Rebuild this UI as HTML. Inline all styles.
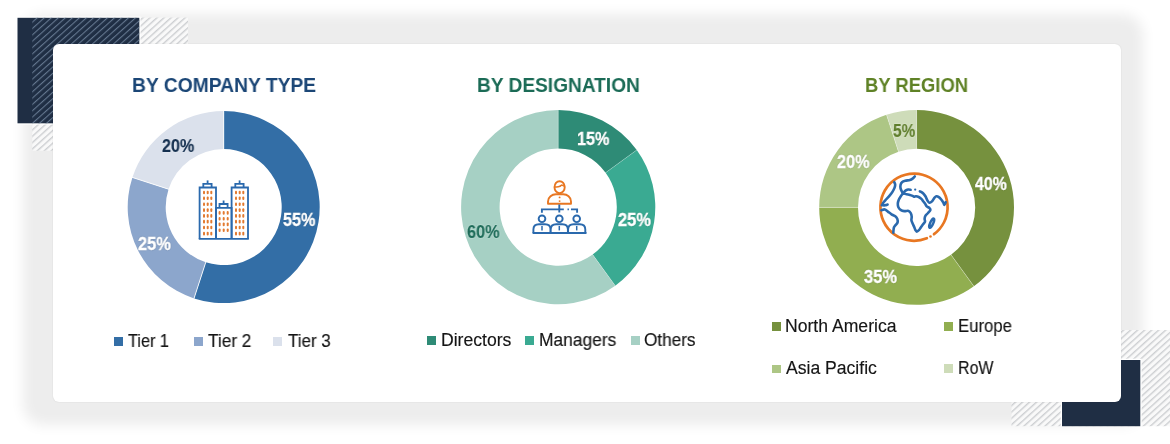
<!DOCTYPE html>
<html><head><meta charset="utf-8"><style>
*{margin:0;padding:0;box-sizing:border-box}
html,body{width:1170px;height:444px;overflow:hidden;background:#fff}
body{position:relative;font-family:"Liberation Sans",sans-serif}
.abs{position:absolute}
.shadow{left:53.1px;top:44px;width:1067.7px;height:358px;border-radius:6px;background:#ededed;box-shadow:-4px -3.5px 13px 26px #ededed}
.card{left:53.1px;top:44px;width:1067.7px;height:358px;border-radius:6px;background:#fff;box-shadow:0 0 1.5px rgba(0,0,0,0.12)}
.t{position:absolute;white-space:nowrap;line-height:1;transform-origin:0 0;will-change:transform}
.sq{position:absolute}
</style></head><body>
<div class="abs shadow"></div>
<svg class="abs" style="left:0;top:0" width="1170" height="444" viewBox="0 0 1170 444">
<defs>
<pattern id="sl" patternUnits="userSpaceOnUse" width="40" height="4.7" patternTransform="rotate(-42)"><rect width="40" height="4.7" fill="#f9f9f9"/><rect width="40" height="1.4" y="0" fill="#cdcfd2"/></pattern>
<pattern id="sd" patternUnits="userSpaceOnUse" width="40" height="4.7" patternTransform="rotate(-42)"><rect width="40" height="1.1" y="0" fill="#64778f"/></pattern>
</defs>
<rect x="32.3" y="17.6" width="155.7" height="133.1" fill="url(#sl)"/>
<rect x="16.3" y="16.6" width="124.3" height="108" fill="#fff"/>
<rect x="17.5" y="17.8" width="121.8" height="105.5" fill="#1f2e44"/>
<rect x="32.3" y="17.8" width="107" height="105.5" fill="url(#sd)"/>
<rect x="1011.5" y="330" width="160" height="96.2" fill="url(#sl)"/>
<rect x="1060.7" y="358.7" width="81" height="67.5" fill="#fff"/>
<rect x="1062" y="360" width="78.3" height="66.2" fill="#1f2e44"/>
</svg>
<div class="abs card"></div>
<svg class="abs" style="left:0;top:0" width="1170" height="444" viewBox="0 0 1170 444">
<path d="M223.70,111.10 A96.0,96.0 0 1 1 194.03,298.40 L205.78,262.26 A58.0,58.0 0 1 0 223.70,149.10 Z" fill="#336ea6"/>
<path d="M194.03,298.40 A96.0,96.0 0 0 1 132.40,177.43 L168.54,189.18 A58.0,58.0 0 0 0 205.78,262.26 Z" fill="#8ca6cc"/>
<path d="M132.40,177.43 A96.0,96.0 0 0 1 223.70,111.10 L223.70,149.10 A58.0,58.0 0 0 0 168.54,189.18 Z" fill="#dbe1ec"/>
<line x1="223.70" y1="150.10" x2="223.70" y2="110.10" stroke="#fff" stroke-width="1.0" stroke-opacity="0.85"/>
<line x1="206.09" y1="261.31" x2="193.73" y2="299.35" stroke="#fff" stroke-width="1.0" stroke-opacity="0.85"/>
<line x1="169.49" y1="189.49" x2="131.45" y2="177.13" stroke="#fff" stroke-width="1.0" stroke-opacity="0.85"/>
<path d="M558.20,110.00 A97.1,97.1 0 0 1 636.76,150.03 L605.61,172.66 A58.6,58.6 0 0 0 558.20,148.50 Z" fill="#2e8b76"/>
<path d="M636.76,150.03 A97.1,97.1 0 0 1 615.27,285.66 L592.64,254.51 A58.6,58.6 0 0 0 605.61,172.66 Z" fill="#3aaa92"/>
<path d="M615.27,285.66 A97.1,97.1 0 1 1 558.20,110.00 L558.20,148.50 A58.6,58.6 0 1 0 592.64,254.51 Z" fill="#a6d0c4"/>
<line x1="558.20" y1="149.50" x2="558.20" y2="109.00" stroke="#fff" stroke-width="0.8" stroke-opacity="0.3"/>
<line x1="604.80" y1="173.24" x2="637.56" y2="149.44" stroke="#fff" stroke-width="0.8" stroke-opacity="0.3"/>
<line x1="592.06" y1="253.70" x2="615.86" y2="286.46" stroke="#fff" stroke-width="0.8" stroke-opacity="0.3"/>
<path d="M916.60,110.00 A97.4,97.4 0 0 1 973.85,286.20 L951.04,254.81 A58.6,58.6 0 0 0 916.60,148.80 Z" fill="#76913e"/>
<path d="M973.85,286.20 A97.4,97.4 0 0 1 819.20,207.40 L858.00,207.40 A58.6,58.6 0 0 0 951.04,254.81 Z" fill="#91ae50"/>
<path d="M819.20,207.40 A97.4,97.4 0 0 1 886.50,114.77 L898.49,151.67 A58.6,58.6 0 0 0 858.00,207.40 Z" fill="#adc685"/>
<path d="M886.50,114.77 A97.4,97.4 0 0 1 916.60,110.00 L916.60,148.80 A58.6,58.6 0 0 0 898.49,151.67 Z" fill="#cedcb9"/>
<line x1="916.60" y1="149.80" x2="916.60" y2="109.00" stroke="#fff" stroke-width="0.8" stroke-opacity="0.4"/>
<line x1="950.46" y1="254.00" x2="974.44" y2="287.01" stroke="#fff" stroke-width="0.8" stroke-opacity="0.4"/>
<line x1="859.00" y1="207.40" x2="818.20" y2="207.40" stroke="#fff" stroke-width="0.8" stroke-opacity="0.4"/>
<line x1="898.80" y1="152.62" x2="886.19" y2="113.82" stroke="#fff" stroke-width="0.8" stroke-opacity="0.4"/>
<path d="M199.6,239 V187.5 H216 V239" fill="none" stroke="#2a69ad" stroke-width="1.8"/><path d="M203.3,187.5 V183.8 H211.6 V187.5" fill="none" stroke="#2a69ad" stroke-width="1.8"/><line x1="207.6" y1="183.8" x2="207.6" y2="180.4" stroke="#2a69ad" stroke-width="1.8"/>
<path d="M231.6,239 V187.5 H248 V239" fill="none" stroke="#2a69ad" stroke-width="1.8"/><path d="M235.3,187.5 V183.8 H243.6 V187.5" fill="none" stroke="#2a69ad" stroke-width="1.8"/><line x1="239.6" y1="183.8" x2="239.6" y2="180.4" stroke="#2a69ad" stroke-width="1.8"/>
<path d="M216,239 V207.8 H231.6 V239" fill="none" stroke="#2a69ad" stroke-width="1.8"/>
<path d="M219.5,207.8 V204 H227.6 V207.8" fill="none" stroke="#2a69ad" stroke-width="1.8"/>
<line x1="223.6" y1="204" x2="223.6" y2="200.5" stroke="#2a69ad" stroke-width="1.8"/>
<line x1="198.8" y1="238.9" x2="248.8" y2="238.9" stroke="#2a69ad" stroke-width="1.8"/>
<rect x="203.00" y="190.70" width="2" height="3.6" rx="1" fill="#e27a30"/>
<rect x="206.70" y="190.70" width="2" height="3.6" rx="1" fill="#e27a30"/>
<rect x="210.30" y="190.70" width="2" height="3.6" rx="1" fill="#e27a30"/>
<rect x="203.00" y="196.50" width="2" height="3.6" rx="1" fill="#e27a30"/>
<rect x="206.70" y="196.50" width="2" height="3.6" rx="1" fill="#e27a30"/>
<rect x="210.30" y="196.50" width="2" height="3.6" rx="1" fill="#e27a30"/>
<rect x="203.00" y="202.40" width="2" height="3.6" rx="1" fill="#e27a30"/>
<rect x="206.70" y="202.40" width="2" height="3.6" rx="1" fill="#e27a30"/>
<rect x="210.30" y="202.40" width="2" height="3.6" rx="1" fill="#e27a30"/>
<rect x="203.00" y="208.30" width="2" height="3.6" rx="1" fill="#e27a30"/>
<rect x="206.70" y="208.30" width="2" height="3.6" rx="1" fill="#e27a30"/>
<rect x="210.30" y="208.30" width="2" height="3.6" rx="1" fill="#e27a30"/>
<rect x="203.00" y="214.10" width="2" height="3.6" rx="1" fill="#e27a30"/>
<rect x="206.70" y="214.10" width="2" height="3.6" rx="1" fill="#e27a30"/>
<rect x="210.30" y="214.10" width="2" height="3.6" rx="1" fill="#e27a30"/>
<rect x="203.00" y="219.80" width="2" height="3.6" rx="1" fill="#e27a30"/>
<rect x="206.70" y="219.80" width="2" height="3.6" rx="1" fill="#e27a30"/>
<rect x="210.30" y="219.80" width="2" height="3.6" rx="1" fill="#e27a30"/>
<rect x="203.00" y="225.70" width="2" height="3.6" rx="1" fill="#e27a30"/>
<rect x="206.70" y="225.70" width="2" height="3.6" rx="1" fill="#e27a30"/>
<rect x="210.30" y="225.70" width="2" height="3.6" rx="1" fill="#e27a30"/>
<rect x="203.00" y="231.80" width="2" height="3.6" rx="1" fill="#e27a30"/>
<rect x="206.70" y="231.80" width="2" height="3.6" rx="1" fill="#e27a30"/>
<rect x="210.30" y="231.80" width="2" height="3.6" rx="1" fill="#e27a30"/>
<rect x="235.00" y="190.70" width="2" height="3.6" rx="1" fill="#e27a30"/>
<rect x="238.70" y="190.70" width="2" height="3.6" rx="1" fill="#e27a30"/>
<rect x="242.30" y="190.70" width="2" height="3.6" rx="1" fill="#e27a30"/>
<rect x="235.00" y="196.50" width="2" height="3.6" rx="1" fill="#e27a30"/>
<rect x="238.70" y="196.50" width="2" height="3.6" rx="1" fill="#e27a30"/>
<rect x="242.30" y="196.50" width="2" height="3.6" rx="1" fill="#e27a30"/>
<rect x="235.00" y="202.40" width="2" height="3.6" rx="1" fill="#e27a30"/>
<rect x="238.70" y="202.40" width="2" height="3.6" rx="1" fill="#e27a30"/>
<rect x="242.30" y="202.40" width="2" height="3.6" rx="1" fill="#e27a30"/>
<rect x="235.00" y="208.30" width="2" height="3.6" rx="1" fill="#e27a30"/>
<rect x="238.70" y="208.30" width="2" height="3.6" rx="1" fill="#e27a30"/>
<rect x="242.30" y="208.30" width="2" height="3.6" rx="1" fill="#e27a30"/>
<rect x="235.00" y="214.10" width="2" height="3.6" rx="1" fill="#e27a30"/>
<rect x="238.70" y="214.10" width="2" height="3.6" rx="1" fill="#e27a30"/>
<rect x="242.30" y="214.10" width="2" height="3.6" rx="1" fill="#e27a30"/>
<rect x="235.00" y="219.80" width="2" height="3.6" rx="1" fill="#e27a30"/>
<rect x="238.70" y="219.80" width="2" height="3.6" rx="1" fill="#e27a30"/>
<rect x="242.30" y="219.80" width="2" height="3.6" rx="1" fill="#e27a30"/>
<rect x="235.00" y="225.70" width="2" height="3.6" rx="1" fill="#e27a30"/>
<rect x="238.70" y="225.70" width="2" height="3.6" rx="1" fill="#e27a30"/>
<rect x="242.30" y="225.70" width="2" height="3.6" rx="1" fill="#e27a30"/>
<rect x="235.00" y="231.80" width="2" height="3.6" rx="1" fill="#e27a30"/>
<rect x="238.70" y="231.80" width="2" height="3.6" rx="1" fill="#e27a30"/>
<rect x="242.30" y="231.80" width="2" height="3.6" rx="1" fill="#e27a30"/>
<rect x="218.60" y="211.10" width="2" height="3.6" rx="1" fill="#e27a30"/>
<rect x="222.70" y="211.10" width="2" height="3.6" rx="1" fill="#e27a30"/>
<rect x="226.70" y="211.10" width="2" height="3.6" rx="1" fill="#e27a30"/>
<rect x="218.60" y="216.90" width="2" height="3.6" rx="1" fill="#e27a30"/>
<rect x="222.70" y="216.90" width="2" height="3.6" rx="1" fill="#e27a30"/>
<rect x="226.70" y="216.90" width="2" height="3.6" rx="1" fill="#e27a30"/>
<rect x="218.60" y="222.60" width="2" height="3.6" rx="1" fill="#e27a30"/>
<rect x="222.70" y="222.60" width="2" height="3.6" rx="1" fill="#e27a30"/>
<rect x="226.70" y="222.60" width="2" height="3.6" rx="1" fill="#e27a30"/>
<rect x="218.60" y="228.40" width="2" height="3.6" rx="1" fill="#e27a30"/>
<rect x="222.70" y="228.40" width="2" height="3.6" rx="1" fill="#e27a30"/>
<rect x="226.70" y="228.40" width="2" height="3.6" rx="1" fill="#e27a30"/>
<ellipse cx="559.6" cy="187.2" rx="5.1" ry="6" fill="none" stroke="#e87722" stroke-width="1.9"/>
<path d="M554.6,186.9 C556.5,187.2 558.5,187 560,186.3 C561,185.6 561.5,184.9 562,185.1 C563,185.7 563.8,186.2 564.6,186.1" fill="none" stroke="#e87722" stroke-width="1.5" stroke-linecap="round"/>
<path d="M548,203.7 V201.5 C548,197 552,194.3 556,194.3 H563.2 C567.2,194.3 571,197 571,201.5 V203.7 Z" fill="none" stroke="#e87722" stroke-width="1.9" stroke-linejoin="round"/>
<circle cx="559.6" cy="197.4" r="0.95" fill="#e87722"/><circle cx="559.6" cy="201.1" r="0.95" fill="#e87722"/>
<line x1="559.3" y1="204.5" x2="559.3" y2="212.5" stroke="#2a69ad" stroke-width="1.9"/>
<path d="M541.9,212.8 V209.4 H563.8" fill="none" stroke="#2a69ad" stroke-width="1.9"/>
<path d="M567.5,209.4 H568.9 M571,209.4 H577.1 V212.8" fill="none" stroke="#2a69ad" stroke-width="1.9"/>
<path d="M533.4,233 V229.5 C533.4,226 536.0,224.3 539.0,224.3 H545.0 C548.0,224.3 550.6,226 550.6,229.5 V233" fill="#fff" stroke="#2a69ad" stroke-width="1.9" stroke-linejoin="round"/>
<line x1="542.0" y1="226" x2="542.0" y2="230.4" stroke="#2a69ad" stroke-width="1.5"/>
<path d="M550.6999999999999,233 V229.5 C550.6999999999999,226 553.3,224.3 556.3,224.3 H562.3 C565.3,224.3 567.9,226 567.9,229.5 V233" fill="#fff" stroke="#2a69ad" stroke-width="1.9" stroke-linejoin="round"/>
<line x1="559.3" y1="226" x2="559.3" y2="230.4" stroke="#2a69ad" stroke-width="1.5"/>
<path d="M568.1,233 V229.5 C568.1,226 570.7,224.3 573.7,224.3 H579.7 C582.7,224.3 585.3000000000001,226 585.3000000000001,229.5 V233" fill="#fff" stroke="#2a69ad" stroke-width="1.9" stroke-linejoin="round"/>
<line x1="576.7" y1="226" x2="576.7" y2="230.4" stroke="#2a69ad" stroke-width="1.5"/>
<circle cx="542.0" cy="218.8" r="3.35" fill="#fff" stroke="#2a69ad" stroke-width="1.9"/>
<circle cx="559.3" cy="218.8" r="3.35" fill="#fff" stroke="#2a69ad" stroke-width="1.9"/>
<circle cx="576.7" cy="218.8" r="3.35" fill="#fff" stroke="#2a69ad" stroke-width="1.9"/>
<line x1="532.6" y1="233" x2="586.5" y2="233" stroke="#2a69ad" stroke-width="1.9"/>
<path d="M926.86,238.24 A33.6,33.6 0 1 1 933.99,234.21" fill="none" stroke="#e87722" stroke-width="2.7" stroke-linecap="round"/>
<circle cx="930.49" cy="236.47" r="1.3" fill="#e87722"/>
<path d="M894.30,182.20 C894.45,182.63 895.18,183.82 895.20,184.80 C895.22,185.78 894.83,186.97 894.40,188.10 C893.97,189.23 893.40,190.35 892.60,191.60 C891.80,192.85 890.62,194.37 889.60,195.60 C888.58,196.83 887.43,197.97 886.50,199.00 C885.57,200.03 884.65,201.00 884.00,201.80 C883.35,202.60 882.83,203.47 882.60,203.80" fill="none" stroke="#2a69ad" stroke-width="2.6" stroke-linecap="round" stroke-linejoin="round"/>
<path d="M881.80,205.20 C882.33,205.22 884.03,205.40 885.00,205.30 C885.97,205.20 887.17,204.72 887.60,204.60" fill="none" stroke="#2a69ad" stroke-width="2.6" stroke-linecap="round" stroke-linejoin="round"/>
<path d="M914.80,176.40 C914.43,176.77 913.42,178.00 912.60,178.60 C911.78,179.20 911.13,179.63 909.90,180.00 C908.67,180.37 906.52,180.43 905.20,180.80 C903.88,181.17 902.77,181.53 902.00,182.20 C901.23,182.87 900.85,183.82 900.60,184.80 C900.35,185.78 900.30,187.02 900.50,188.10 C900.70,189.18 901.32,190.43 901.80,191.30 C902.28,192.17 903.13,192.97 903.40,193.30" fill="none" stroke="#2a69ad" stroke-width="2.6" stroke-linecap="round" stroke-linejoin="round"/>
<path d="M903.10,193.50 C903.45,193.07 904.35,191.55 905.20,190.90 C906.05,190.25 907.30,189.78 908.20,189.60 C909.10,189.42 910.20,189.77 910.60,189.80" fill="none" stroke="#2a69ad" stroke-width="2.6" stroke-linecap="round" stroke-linejoin="round"/>
<circle cx="915.2" cy="189.6" r="1.15" fill="#2a69ad"/>
<path d="M919.90,191.30 C920.47,191.67 922.35,192.63 923.30,193.50 C924.25,194.37 924.90,195.32 925.60,196.50 C926.30,197.68 926.87,199.55 927.50,200.60 C928.13,201.65 928.65,202.67 929.40,202.80 C930.15,202.93 931.20,202.18 932.00,201.40 C932.80,200.62 933.48,198.95 934.20,198.10 C934.92,197.25 935.53,196.47 936.30,196.30 C937.07,196.13 937.95,196.52 938.80,197.10 C939.65,197.68 940.65,198.88 941.40,199.80 C942.15,200.72 942.80,201.75 943.30,202.60 C943.80,203.45 944.00,204.97 944.40,204.90 C944.80,204.83 945.48,202.65 945.70,202.20" fill="none" stroke="#2a69ad" stroke-width="2.6" stroke-linecap="round" stroke-linejoin="round"/>
<path d="M903.10,193.50 C904.10,193.08 905.37,194.07 906.50,194.30 C907.63,194.53 908.88,194.63 909.90,194.90 C910.92,195.17 911.92,195.60 912.60,195.90 C913.28,196.20 913.43,196.63 914.00,196.70 C914.57,196.77 915.22,196.25 916.00,196.30 C916.78,196.35 917.80,196.57 918.70,197.00 C919.60,197.43 920.65,198.20 921.40,198.90 C922.15,199.60 922.60,200.42 923.20,201.20 C923.80,201.98 924.42,202.75 925.00,203.60 C925.58,204.45 925.97,205.57 926.70,206.30 C927.43,207.03 928.78,207.38 929.40,208.00 C930.02,208.62 930.63,209.17 930.40,210.00 C930.17,210.83 928.83,212.03 928.00,213.00 C927.17,213.97 925.97,214.82 925.40,215.80 C924.83,216.78 924.67,217.93 924.60,218.90 C924.53,219.87 925.25,220.70 925.00,221.60 C924.75,222.50 923.80,223.33 923.10,224.30 C922.40,225.27 921.50,226.42 920.80,227.40 C920.10,228.38 919.57,229.50 918.90,230.20 C918.23,230.90 917.38,231.63 916.80,231.60 C916.22,231.57 915.83,230.77 915.40,230.00 C914.97,229.23 914.67,228.10 914.20,227.00 C913.73,225.90 913.07,224.53 912.60,223.40 C912.13,222.27 911.55,221.33 911.40,220.20 C911.25,219.07 911.82,217.80 911.70,216.60 C911.58,215.40 911.22,213.95 910.70,213.00 C910.18,212.05 909.67,211.22 908.60,210.90 C907.53,210.58 905.63,211.28 904.30,211.10 C902.97,210.92 901.58,210.45 900.60,209.80 C899.62,209.15 898.87,208.22 898.40,207.20 C897.93,206.18 897.77,204.87 897.80,203.70 C897.83,202.53 898.15,201.35 898.60,200.20 C899.05,199.05 899.75,197.92 900.50,196.80 C901.25,195.68 902.10,193.92 903.10,193.50 Z" fill="none" stroke="#2a69ad" stroke-width="2.6" stroke-linecap="round" stroke-linejoin="round"/>
<ellipse cx="931.7" cy="223.2" rx="1.5" ry="5.0" transform="rotate(24 931.7 223.2)" fill="none" stroke="#2a69ad" stroke-width="2.5"/>
<path d="M881.40,210.20 C881.97,210.07 883.72,209.17 884.80,209.40 C885.88,209.63 886.78,210.78 887.90,211.60 C889.02,212.42 890.27,213.53 891.50,214.30 C892.73,215.07 894.33,215.43 895.30,216.20 C896.27,216.97 896.92,217.88 897.30,218.90 C897.68,219.92 897.88,221.27 897.60,222.30 C897.32,223.33 896.20,224.28 895.60,225.10 C895.00,225.92 894.35,226.37 894.00,227.20 C893.65,228.03 893.62,229.20 893.50,230.10 C893.38,231.00 893.33,232.18 893.30,232.60" fill="none" stroke="#2a69ad" stroke-width="2.6" stroke-linecap="round" stroke-linejoin="round"/>
</svg>
<div class="t" style="left:132.04px;top:74.90px;font-size:20px;font-weight:bold;color:#1b4676;transform:scaleX(0.9630);">BY COMPANY TYPE</div>
<div class="t" style="left:476.94px;top:74.90px;font-size:20px;font-weight:bold;color:#1b6b56;transform:scaleX(0.9554);">BY DESIGNATION</div>
<div class="t" style="left:864.98px;top:74.90px;font-size:20px;font-weight:bold;color:#5f8226;transform:scaleX(0.9209);">BY REGION</div>
<div class="t" style="left:282.98px;top:212.00px;font-size:17.5px;font-weight:bold;color:#fff;transform:scaleX(0.9235);text-shadow:0 0 1.5px rgba(0,0,0,0.35);-webkit-text-stroke:0.35px #fff">55%</div>
<div class="t" style="left:138.16px;top:235.50px;font-size:17.5px;font-weight:bold;color:#fff;transform:scaleX(0.9353);text-shadow:0 0 1.5px rgba(0,0,0,0.35);-webkit-text-stroke:0.35px #fff">25%</div>
<div class="t" style="left:161.68px;top:137.80px;font-size:17.5px;font-weight:bold;color:#142f4f;transform:scaleX(0.9206);text-shadow:0 0 1.5px rgba(255,255,255,0.9);-webkit-text-stroke:0.2px currentColor">20%</div>
<div class="t" style="left:577.28px;top:131.00px;font-size:17.5px;font-weight:bold;color:#fff;transform:scaleX(0.9235);text-shadow:0 0 1.5px rgba(0,0,0,0.35);-webkit-text-stroke:0.35px #fff">15%</div>
<div class="t" style="left:618.46px;top:212.00px;font-size:17.5px;font-weight:bold;color:#fff;transform:scaleX(0.9382);text-shadow:0 0 1.5px rgba(0,0,0,0.35);-webkit-text-stroke:0.35px #fff">25%</div>
<div class="t" style="left:467.07px;top:224.40px;font-size:17.5px;font-weight:bold;color:#1e6c59;transform:scaleX(0.9294);text-shadow:0 0 1.5px rgba(255,255,255,0.9);-webkit-text-stroke:0.2px currentColor">60%</div>
<div class="t" style="left:974.90px;top:176.00px;font-size:17.5px;font-weight:bold;color:#fff;transform:scaleX(0.9057);text-shadow:0 0 1.5px rgba(0,0,0,0.35);-webkit-text-stroke:0.35px #fff">40%</div>
<div class="t" style="left:864.06px;top:269.40px;font-size:17.5px;font-weight:bold;color:#fff;transform:scaleX(0.9412);text-shadow:0 0 1.5px rgba(0,0,0,0.35);-webkit-text-stroke:0.35px #fff">35%</div>
<div class="t" style="left:836.87px;top:154.30px;font-size:17.5px;font-weight:bold;color:#fff;transform:scaleX(0.9294);text-shadow:0 0 1.5px rgba(0,0,0,0.35);-webkit-text-stroke:0.35px #fff">20%</div>
<div class="t" style="left:893.02px;top:122.90px;font-size:17.5px;font-weight:bold;color:#5f7e2c;transform:scaleX(0.8792);text-shadow:0 0 1.5px rgba(255,255,255,0.9);-webkit-text-stroke:0.2px currentColor">5%</div>
<div class="t" style="left:128.10px;top:332.80px;font-size:17.5px;font-weight:normal;color:#151515;transform:scaleX(0.9302);-webkit-text-stroke:0.15px #151515">Tier 1</div>
<div class="t" style="left:207.90px;top:332.80px;font-size:17.5px;font-weight:normal;color:#151515;transform:scaleX(0.9837);-webkit-text-stroke:0.15px #151515">Tier 2</div>
<div class="t" style="left:287.60px;top:332.80px;font-size:17.5px;font-weight:normal;color:#151515;transform:scaleX(0.9698);-webkit-text-stroke:0.15px #151515">Tier 3</div>
<div class="t" style="left:440.99px;top:331.80px;font-size:17.5px;font-weight:normal;color:#151515;transform:scaleX(1.0059);-webkit-text-stroke:0.15px #151515">Directors</div>
<div class="t" style="left:539.11px;top:331.80px;font-size:17.5px;font-weight:normal;color:#151515;transform:scaleX(0.9934);-webkit-text-stroke:0.15px #151515">Managers</div>
<div class="t" style="left:643.82px;top:331.80px;font-size:17.5px;font-weight:normal;color:#151515;transform:scaleX(0.9804);-webkit-text-stroke:0.15px #151515">Others</div>
<div class="t" style="left:785.29px;top:317.70px;font-size:17.5px;font-weight:normal;color:#151515;transform:scaleX(1.0055);-webkit-text-stroke:0.15px #151515">North America</div>
<div class="t" style="left:958.05px;top:317.70px;font-size:17.5px;font-weight:normal;color:#151515;transform:scaleX(0.9545);-webkit-text-stroke:0.15px #151515">Europe</div>
<div class="t" style="left:785.90px;top:360.20px;font-size:17.5px;font-weight:normal;color:#151515;transform:scaleX(1.0044);-webkit-text-stroke:0.15px #151515">Asia Pacific</div>
<div class="t" style="left:957.89px;top:360.30px;font-size:17.5px;font-weight:normal;color:#151515;transform:scaleX(0.9132);-webkit-text-stroke:0.15px #151515">RoW</div>
<div class="sq" style="left:114px;top:336.9px;width:9.2px;height:9.0px;background:#336ea6"></div>
<div class="sq" style="left:193.5px;top:336.9px;width:9.2px;height:9.0px;background:#8ca6cc"></div>
<div class="sq" style="left:273px;top:336.9px;width:9.2px;height:9.0px;background:#dbe1ec"></div>
<div class="sq" style="left:427.3px;top:336px;width:9.1px;height:9.0px;background:#2e8b76"></div>
<div class="sq" style="left:525.3px;top:336px;width:9.2px;height:9.0px;background:#3aaa92"></div>
<div class="sq" style="left:630.5px;top:336px;width:9.3px;height:9.0px;background:#a6d0c4"></div>
<div class="sq" style="left:771.6px;top:322.2px;width:9.2px;height:8.7px;background:#76913e"></div>
<div class="sq" style="left:944.1px;top:322.1px;width:9.3px;height:8.8px;background:#91ae50"></div>
<div class="sq" style="left:771.6px;top:364.5px;width:9.2px;height:8.7px;background:#adc685"></div>
<div class="sq" style="left:944.1px;top:364.4px;width:9.3px;height:8.9px;background:#cedcb9"></div>
</body></html>
